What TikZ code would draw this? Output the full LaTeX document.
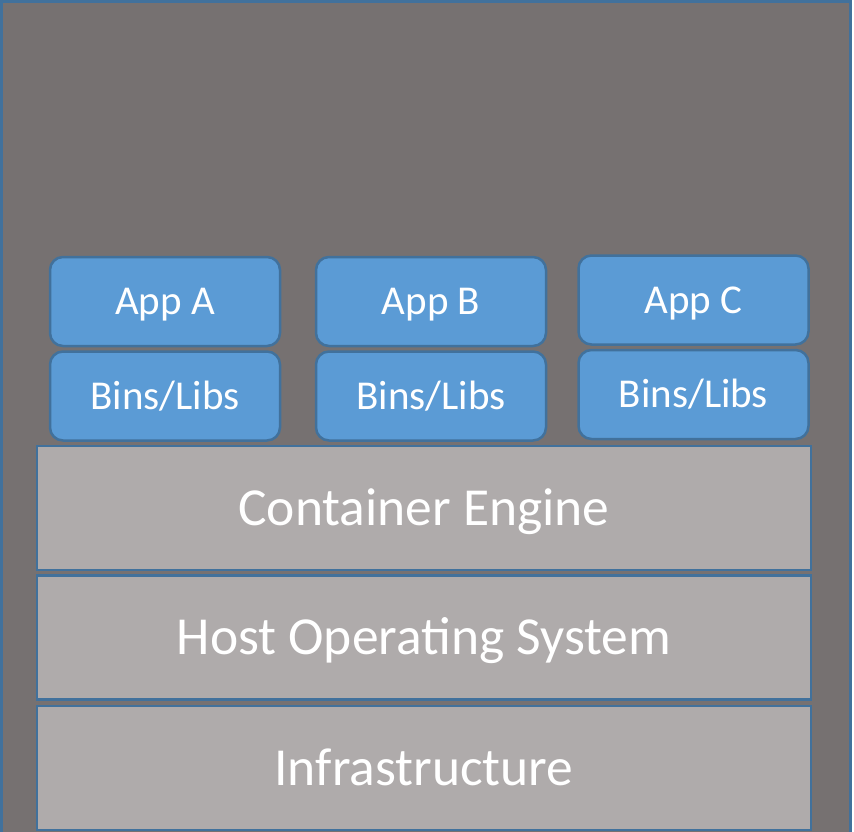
\documentclass[tikz,border=0pt]{standalone}
\usepackage{fontspec}
\setmainfont{Carlito}
\usepackage{xcolor}
\usepackage{tikz}
\usetikzlibrary{positioning}
\definecolor{bggray}{RGB}{118,113,113}
\definecolor{edgeblue}{RGB}{65,113,156}
\definecolor{layergray}{RGB}{175,171,171}
\definecolor{appblue}{RGB}{91,155,213}
\tikzset{
    layer/.style={draw=edgeblue, fill=layergray, line width=2.5pt, minimum width=774pt, minimum height=124pt, inner sep=0pt, text height=34pt, text depth=0pt, text=white, font=\fontsize{53.5}{60}\selectfont},
    appbox/.style={draw=edgeblue, fill=appblue, line width=2.5pt, rounded corners=13pt, minimum width=230pt, minimum height=89pt, inner sep=0pt, text height=26pt, text depth=0pt, text=white, font=\fontsize{41}{48}\selectfont}
}

\begin{document}
\begin{tikzpicture}[x=1pt, y=-1pt]
    \useasboundingbox (0,0) rectangle (854,832);
    \draw[draw=edgeblue, fill=bggray, line width=3pt] (1.5,1.5) rectangle (850.5,834);
    \node[layer] (infra) at (424,768) {Infrastructure};
    \node[layer] (hostos) at (424,637.5) {Host Operating System};
    \node[layer] (engine) at (424,508) {Container Engine};
    \foreach \name/\x/\y in {A/165/301.5, B/431/301.5, C/693.5/300} {
        \node[appbox] (app\name) at (\x,\y) {App \name};
        \node[appbox, below=3pt of app\name] (bins\name) {Bins/Libs};
    }
\end{tikzpicture}
\end{document}
